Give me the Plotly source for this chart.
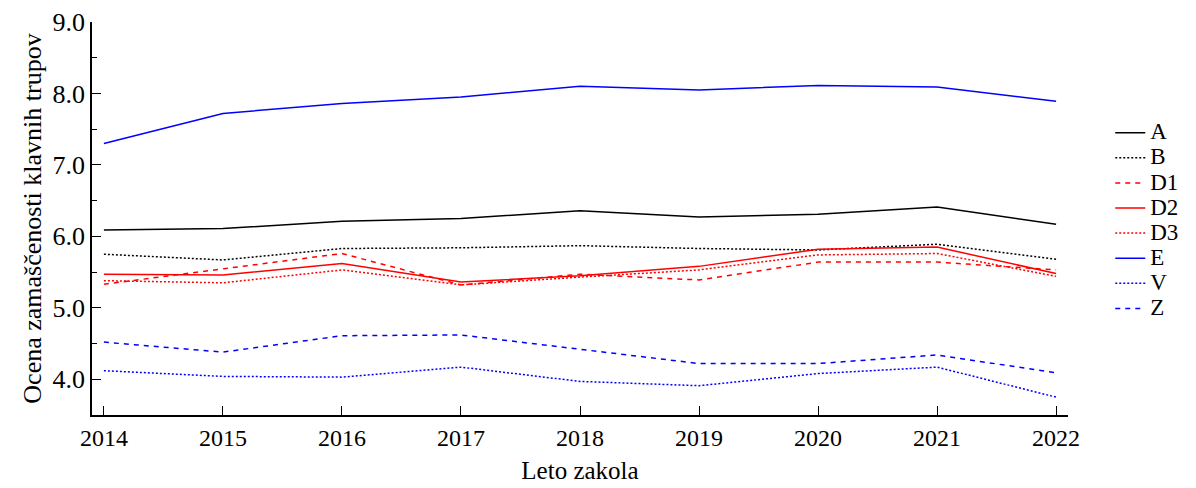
import plotly.graph_objects as go

years = [2014, 2015, 2016, 2017, 2018, 2019, 2020, 2021, 2022]
series_names = ["A", "B", "D1", "D2", "D3", "E", "V", "Z"]
A = [6.09, 6.11, 6.21, 6.25, 6.36, 6.27, 6.31, 6.41, 6.17]
B = [5.75, 5.67, 5.83, 5.84, 5.87, 5.83, 5.81, 5.89, 5.68]
D1 = [5.33, 5.55, 5.76, 5.32, 5.47, 5.39, 5.64, 5.64, 5.53]
D2 = [5.47, 5.46, 5.62, 5.36, 5.45, 5.58, 5.82, 5.85, 5.48]
D3 = [5.38, 5.35, 5.53, 5.32, 5.43, 5.53, 5.74, 5.76, 5.44]
E = [7.30, 7.72, 7.86, 7.95, 8.10, 8.05, 8.11, 8.09, 7.89]
V = [4.12, 4.04, 4.03, 4.17, 3.97, 3.91, 4.08, 4.17, 3.75]
Z = [4.52, 4.38, 4.61, 4.62, 4.42, 4.22, 4.22, 4.34, 4.09]
values = [A, B, D1, D2, D3, E, V, Z]
y_tickvals = [4, 5, 6, 7, 8, 9]
y_ticktext = ["4.0", "5.0", "6.0", "7.0", "8.0", "9.0"]
colors = ["#000000", "#000000", "#ff0000", "#ff0000", "#ff0000", "#0000ff", "#0000ff", "#0000ff"]
dashes = ["solid", "2px,2px", "5px,5px", "solid", "2px,2px", "solid", "2px,2px", "5px,5px"]

FONT = "Liberation Serif"
TICK_SIZE = 24
TITLE_SIZE = 26

fig = go.Figure()
for name, vals, col, dash in zip(series_names, values, colors, dashes):
    fig.add_trace(go.Scatter(
        x=years, y=vals, mode="lines",
        name='<span style="font-size:23px">' + name + '</span>',
        line=dict(color=col, width=1.5, dash=dash),
    ))

fig.update_layout(
    width=1188, height=480,
    margin=dict(l=84, r=123, t=14, b=73),
    paper_bgcolor="white", plot_bgcolor="white",
    font=dict(family=FONT, size=22, color="#000000"),
    showlegend=True,
    legend=dict(
        x=1.0433, xanchor="left", y=0.763, yanchor="top",
        font=dict(family=FONT, size=17, color="#000000"),
        bgcolor="rgba(0,0,0,0)", borderwidth=0, itemwidth=30,
        tracegroupgap=0,
    ),
    xaxis=dict(
        range=[2013.9, 2022.1],
        tickmode="array", tickvals=years, ticktext=[str(y) for y in years],
        ticks="inside", ticklen=9, tickwidth=1, tickcolor="#000000",
        showline=True, linecolor="#000000", linewidth=1.5,
        showgrid=False, zeroline=False,
        tickfont=dict(family=FONT, size=TICK_SIZE),
        title=dict(text="Leto zakola", font=dict(family=FONT, size=TITLE_SIZE - 1), standoff=12),
        automargin=False,
    ),
    yaxis=dict(
        range=[3.5, 9.0],
        tickmode="array", tickvals=y_tickvals, ticktext=y_ticktext,
        ticks="inside", ticklen=9, tickwidth=1, tickcolor="#000000",
        minor=dict(tickvals=[3.5, 4.5, 5.5, 6.5, 7.5, 8.5], ticks="inside", ticklen=5, tickwidth=1, tickcolor="#000000"),
        showline=True, linecolor="#000000", linewidth=1.5,
        showgrid=False, zeroline=False,
        tickfont=dict(family=FONT, size=TICK_SIZE + 2),
        title=dict(text="Ocena zamaščenosti klavnih trupov", font=dict(family=FONT, size=TITLE_SIZE), standoff=3),
        automargin=False,
    ),
)

fig.write_html("out.html")
